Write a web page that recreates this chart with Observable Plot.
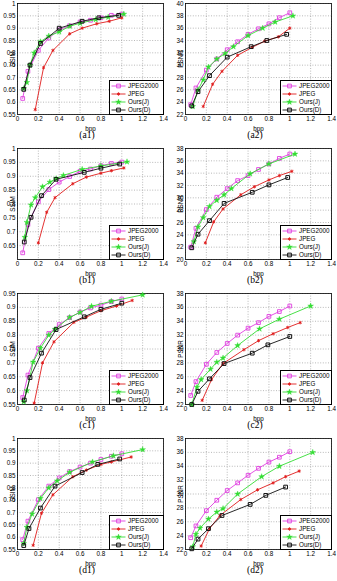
<!DOCTYPE html>
<html>
<head>
<meta charset="utf-8">
<script src="https://cdn.jsdelivr.net/npm/d3@7"></script>
<script src="https://cdn.jsdelivr.net/npm/@observablehq/plot@0.6"></script>
<style>
  body { margin: 0; background: #fff; width: 337px; height: 581px; overflow: hidden; font-family: "Liberation Sans", Arial, sans-serif; }
  #grid { display: grid; grid-template-columns: 168px 169px; grid-template-rows: repeat(4, 145px); }
  .cell { position: relative; height: 145px; }
  .cell svg.plot { display: block; }
  .cap { position: absolute; top: 130px; width: 40px; text-align: center; font-family: "Liberation Serif", "Times New Roman", serif; font-size: 9.5px; line-height: 11px; }
  .legend { position: absolute; box-sizing: border-box; border: 1px solid #000; background: #fff; padding-top: 1px; }
  .legend .row { height: 8px; display: flex; align-items: center; font-size: 6.3px; line-height: 8px; white-space: nowrap; }
  .legend .row svg { display: block; margin: 0 2px 0 1px; }
</style>
</head>
<body>
<div id="grid"></div>
<script>
// ---- series ----
const seriesNames = ["JPEG2000", "JPEG", "Ours(J)", "Ours(D)"];
const seriesColors = ["#e040e0", "#e01b1b", "#33dd33", "#111111"];

// ---- x axis ----
const xTicks = [0, 0.2, 0.4, 0.6, 0.8, 1, 1.2, 1.4];
const xTickLabels = ["0", "0.2", "0.4", "0.6", "0.8", "1", "1.2", "1.4"];

// ---- y ticks per panel ----
const a1Ticks = [0.55, 0.6, 0.65, 0.7, 0.75, 0.8, 0.85, 0.9, 0.95, 1];
const a2Ticks = [22, 24, 26, 28, 30, 32, 34, 36, 38, 40];
const b1Ticks = [0.65, 0.7, 0.75, 0.8, 0.85, 0.9, 0.95, 1];
const b2Ticks = [20, 22, 24, 26, 28, 30, 32, 34, 36, 38];
const c1Ticks = [0.55, 0.6, 0.65, 0.7, 0.75, 0.8, 0.85, 0.9, 0.95];
const c2Ticks = [22, 24, 26, 28, 30, 32, 34, 36, 38];
const d1Ticks = [0.55, 0.6, 0.65, 0.7, 0.75, 0.8, 0.85, 0.9, 0.95, 1];
const d2Ticks = [22, 24, 26, 28, 30, 32, 34, 36, 38];

// ---- JPEG2000 rates (shared) ----
const bppJPEG2000 = [0.05, 0.1, 0.2, 0.3, 0.4, 0.5, 0.6, 0.7, 0.8, 0.9, 1.0];

// ---- (a1) SSIM ----
const a1JPEG2000 = [0.615, 0.725, 0.81, 0.86, 0.893, 0.91, 0.925, 0.932, 0.942, 0.952, 0.957];
const a1JPEG = [[0.17, 0.57], [0.25, 0.74], [0.34, 0.81], [0.5, 0.877], [0.62, 0.9], [0.76, 0.918], [0.88, 0.928], [1.0, 0.942]];
const a1OursJ = [[0.06, 0.655], [0.09, 0.68], [0.12, 0.75], [0.16, 0.8], [0.22, 0.845], [0.3, 0.868], [0.4, 0.885], [0.5, 0.908], [0.6, 0.92], [0.75, 0.935], [0.87, 0.945], [1.02, 0.957]];
const a1OursD = [[0.06, 0.652], [0.12, 0.75], [0.22, 0.838], [0.4, 0.9], [0.62, 0.928], [0.78, 0.942], [0.97, 0.952]];

// ---- (a2) PSNR ----
const a2JPEG2000 = [23.6, 26.3, 29.2, 31.0, 32.5, 33.8, 35.0, 35.9, 36.7, 37.7, 38.5];
const a2JPEG = [[0.17, 23.3], [0.26, 26.9], [0.35, 29.0], [0.5, 31.6], [0.64, 32.9], [0.76, 33.9], [0.89, 34.6], [1.0, 36.0]];
const a2OursJ = [[0.07, 23.3], [0.12, 26.0], [0.17, 27.6], [0.22, 29.7], [0.3, 31.0], [0.38, 31.9], [0.46, 33.0], [0.6, 34.8], [0.74, 36.0], [0.86, 37.0], [1.03, 38.0]];
const a2OursD = [[0.06, 23.4], [0.12, 25.7], [0.23, 28.3], [0.4, 31.3], [0.63, 33.0], [0.78, 34.0], [0.97, 35.0]];

// ---- (b1) SSIM ----
const b1JPEG2000 = [0.624, 0.726, 0.808, 0.852, 0.879, 0.899, 0.918, 0.926, 0.938, 0.946, 0.951];
const b1JPEG = [[0.2, 0.66], [0.28, 0.77], [0.36, 0.823], [0.53, 0.873], [0.66, 0.897], [0.8, 0.911], [0.9, 0.92], [1.02, 0.93]];
const b1OursJ = [[0.07, 0.68], [0.09, 0.734], [0.13, 0.797], [0.17, 0.823], [0.24, 0.862], [0.31, 0.879], [0.37, 0.891], [0.44, 0.903], [0.62, 0.925], [0.8, 0.937], [1.05, 0.952]];
const b1OursD = [[0.065, 0.663], [0.13, 0.752], [0.23, 0.83], [0.37, 0.889], [0.64, 0.914], [0.8, 0.929], [0.98, 0.944]];

// ---- (b2) PSNR ----
const b2JPEG2000 = [22.0, 25.05, 28.1, 30.1, 31.5, 32.8, 33.6, 34.6, 35.5, 36.4, 37.1];
const b2JPEG = [[0.19, 22.7], [0.27, 26.1], [0.36, 28.2], [0.53, 30.5], [0.66, 31.8], [0.8, 32.9], [0.9, 33.6], [1.02, 34.3]];
const b2OursJ = [[0.08, 22.9], [0.12, 25.3], [0.17, 26.8], [0.23, 28.6], [0.3, 29.6], [0.37, 30.5], [0.44, 31.5], [0.62, 33.9], [0.8, 35.5], [1.05, 37.1]];
const b2OursD = [[0.06, 21.9], [0.12, 24.1], [0.23, 26.3], [0.37, 29.1], [0.64, 30.9], [0.8, 32.1], [0.98, 33.3]];

// ---- (c1) SSIM ----
const c1JPEG2000 = [0.575, 0.656, 0.753, 0.806, 0.838, 0.863, 0.883, 0.898, 0.908, 0.921, 0.93];
const c1JPEG = [[0.16, 0.555], [0.24, 0.7], [0.35, 0.776], [0.54, 0.846], [0.66, 0.865], [0.8, 0.888], [0.95, 0.905], [1.1, 0.925]];
const c1OursJ = [[0.06, 0.56], [0.09, 0.6], [0.15, 0.703], [0.22, 0.753], [0.3, 0.8], [0.36, 0.821], [0.5, 0.864], [0.6, 0.882], [0.71, 0.904], [0.9, 0.922], [1.2, 0.945]];
const c1OursD = [[0.065, 0.566], [0.12, 0.647], [0.23, 0.735], [0.37, 0.82], [0.64, 0.866], [0.8, 0.893], [1.0, 0.915]];

// ---- (c2) PSNR ----
const c2JPEG2000 = [23.3, 25.3, 27.8, 29.5, 30.8, 32.0, 33.0, 33.8, 34.7, 35.4, 36.2];
const c2JPEG = [[0.16, 22.6], [0.25, 25.6], [0.36, 27.9], [0.56, 29.9], [0.7, 31.2], [0.84, 32.2], [0.98, 33.1], [1.1, 33.8]];
const c2OursJ = [[0.06, 22.0], [0.11, 24.5], [0.15, 25.6], [0.24, 27.1], [0.3, 28.1], [0.36, 28.7], [0.5, 30.5], [0.71, 32.9], [0.9, 34.3], [1.2, 36.2]];
const c2OursD = [[0.06, 22.0], [0.12, 23.9], [0.23, 25.7], [0.37, 27.9], [0.64, 29.4], [0.79, 30.6], [1.0, 31.8]];

// ---- (d1) SSIM ----
const d1JPEG2000 = [0.59, 0.665, 0.752, 0.807, 0.84, 0.866, 0.884, 0.9, 0.915, 0.928, 0.938];
const d1JPEG = [[0.15, 0.567], [0.23, 0.697], [0.34, 0.772], [0.53, 0.845], [0.66, 0.872], [0.8, 0.895], [0.9, 0.905], [1.09, 0.925]];
const d1OursJ = [[0.06, 0.575], [0.09, 0.64], [0.14, 0.694], [0.22, 0.757], [0.3, 0.8], [0.38, 0.828], [0.5, 0.863], [0.72, 0.905], [0.92, 0.93], [1.2, 0.955]];
const d1OursD = [[0.06, 0.566], [0.11, 0.635], [0.22, 0.718], [0.36, 0.807], [0.62, 0.862], [0.77, 0.895], [0.98, 0.917]];

// ---- (d2) PSNR ----
const d2JPEG2000 = [23.7, 25.4, 27.6, 29.1, 30.5, 31.6, 32.7, 33.7, 34.6, 35.3, 36.1];
const d2JPEG = [[0.15, 22.5], [0.23, 25.0], [0.33, 26.9], [0.53, 29.2], [0.69, 30.6], [0.84, 31.6], [0.96, 32.5], [1.09, 33.3]];
const d2OursJ = [[0.07, 22.4], [0.1, 24.2], [0.14, 25.1], [0.22, 26.4], [0.3, 27.4], [0.36, 27.9], [0.5, 30.0], [0.73, 32.5], [0.9, 34.0], [1.22, 36.0]];
const d2OursD = [[0.06, 22.1], [0.12, 23.5], [0.22, 25.0], [0.35, 26.9], [0.62, 28.5], [0.77, 29.8], [0.96, 31.0]];

// ---- panels ----
const panels = [
  {id: "a1", yLabel: "SSIM", yDomain: [0.55, 1], yTicks: a1Ticks, j2k: a1JPEG2000, jpeg: a1JPEG, oj: a1OursJ, od: a1OursD},
  {id: "a2", yLabel: "PSNR", yDomain: [22, 40], yTicks: a2Ticks, j2k: a2JPEG2000, jpeg: a2JPEG, oj: a2OursJ, od: a2OursD},
  {id: "b1", yLabel: "SSIM", yDomain: [0.6, 1], yTicks: b1Ticks, j2k: b1JPEG2000, jpeg: b1JPEG, oj: b1OursJ, od: b1OursD},
  {id: "b2", yLabel: "PSNR", yDomain: [20, 38], yTicks: b2Ticks, j2k: b2JPEG2000, jpeg: b2JPEG, oj: b2OursJ, od: b2OursD},
  {id: "c1", yLabel: "SSIM", yDomain: [0.55, 0.95], yTicks: c1Ticks, j2k: c1JPEG2000, jpeg: c1JPEG, oj: c1OursJ, od: c1OursD},
  {id: "c2", yLabel: "PSNR", yDomain: [22, 38], yTicks: c2Ticks, j2k: c2JPEG2000, jpeg: c2JPEG, oj: c2OursJ, od: c2OursD},
  {id: "d1", yLabel: "SSIM", yDomain: [0.55, 1], yTicks: d1Ticks, j2k: d1JPEG2000, jpeg: d1JPEG, oj: d1OursJ, od: d1OursD},
  {id: "d2", yLabel: "PSNR", yDomain: [22, 38], yTicks: d2Ticks, j2k: d2JPEG2000, jpeg: d2JPEG, oj: d2OursJ, od: d2OursD}
];

const markerStyle = {
  "JPEG2000": {symbol: "square", r: 2.1, fill: "none", strokeWidth: 0.9},
  "JPEG": {symbol: "asterisk", r: 1.6, fill: "none", strokeWidth: 0.9},
  "Ours(J)": {symbol: "star", r: 1.8, fill: "currentColor", strokeWidth: 0.4},
  "Ours(D)": {symbol: "square", r: 2.1, fill: "none", strokeWidth: 1}
};
const colorOf = Object.fromEntries(seriesNames.map((s, i) => [s, seriesColors[i]]));

function rowsFor(p) {
  const rows = [];
  bppJPEG2000.forEach((x, i) => rows.push({s: "JPEG2000", x, y: p.j2k[i]}));
  p.jpeg.forEach(([x, y]) => rows.push({s: "JPEG", x, y}));
  p.oj.forEach(([x, y]) => rows.push({s: "Ours(J)", x, y}));
  p.od.forEach(([x, y]) => rows.push({s: "Ours(D)", x, y}));
  return rows;
}

function legendEl(left, width) {
  const box = document.createElement("div");
  box.className = "legend";
  box.style.left = left + "px";
  box.style.top = "80px";
  box.style.width = width + "px";
  box.style.height = "35px";
  seriesNames.forEach(s => {
    const row = document.createElement("div");
    row.className = "row";
    const svg = d3.create("svg").attr("width", 15).attr("height", 8);
    svg.append("line").attr("x1", 0.5).attr("x2", 14.5).attr("y1", 4).attr("y2", 4)
      .attr("stroke", colorOf[s]).attr("stroke-width", 0.9);
    const m = markerStyle[s];
    const symType = {square: d3.symbolSquare, asterisk: d3.symbolAsterisk, star: d3.symbolStar}[m.symbol];
    svg.append("path").attr("transform", "translate(7.5,4)")
      .attr("d", d3.symbol(symType, Math.PI * m.r * m.r)())
      .attr("fill", m.fill === "none" ? "none" : colorOf[s])
      .attr("stroke", colorOf[s]).attr("stroke-width", m.strokeWidth);
    row.appendChild(svg.node());
    const t = document.createElement("span");
    t.textContent = s;
    row.appendChild(t);
    box.appendChild(row);
  });
  return box;
}

const grid = document.getElementById("grid");
panels.forEach((p, idx) => {
  const right = idx % 2 === 1;
  const w = right ? 169 : 168;
  const mr = right ? 6 : 5;
  const rows = rowsFor(p);
  const marks = [
    Plot.gridX(xTicks, {stroke: "#8a8a8a", strokeOpacity: 1, strokeWidth: 0.6, strokeDasharray: "1,1.6"}),
    Plot.gridY(p.yTicks, {stroke: "#8a8a8a", strokeOpacity: 1, strokeWidth: 0.6, strokeDasharray: "1,1.6"}),
    Plot.frame({stroke: "#000", strokeWidth: 0.8})
  ];
  seriesNames.forEach(s => {
    const data = rows.filter(d => d.s === s);
    const m = markerStyle[s];
    marks.push(Plot.line(data, {x: "x", y: "y", stroke: colorOf[s], strokeWidth: 0.9}));
    marks.push(Plot.dot(data, {x: "x", y: "y", symbol: m.symbol, r: m.r, stroke: colorOf[s],
      fill: m.fill === "none" ? "none" : colorOf[s], strokeWidth: m.strokeWidth}));
  });
  const chart = Plot.plot({
    width: w, height: 131,
    marginLeft: 17, marginRight: mr, marginTop: 3, marginBottom: 17,
    style: {fontFamily: "'Liberation Sans', Arial, sans-serif", fontSize: "6.3px", background: "white", color: "#000", overflow: "visible"},
    x: {domain: [0, 1.4], ticks: xTicks, tickFormat: (d, i) => xTickLabels[i], tickSize: 0, tickPadding: 2,
        label: "bpp", labelAnchor: "center", labelArrow: "none", labelOffset: 16},
    y: {domain: p.yDomain, ticks: p.yTicks, tickFormat: d => String(d), tickSize: 0, tickPadding: 2,
        label: p.yLabel, labelAnchor: "center", labelArrow: "none", labelOffset: 7},
    marks
  });
  chart.classList.add("plot");
  const cell = document.createElement("div");
  cell.className = "cell";
  cell.appendChild(chart);
  const cap = document.createElement("div");
  cap.className = "cap";
  cap.style.left = (87 - 20) + "px";
  cap.textContent = "(" + p.id + ")";
  cell.appendChild(cap);
  cell.appendChild(legendEl(right ? 112 : 109, right ? 52 : 55));
  grid.appendChild(cell);
});
</script>
</body>
</html>
